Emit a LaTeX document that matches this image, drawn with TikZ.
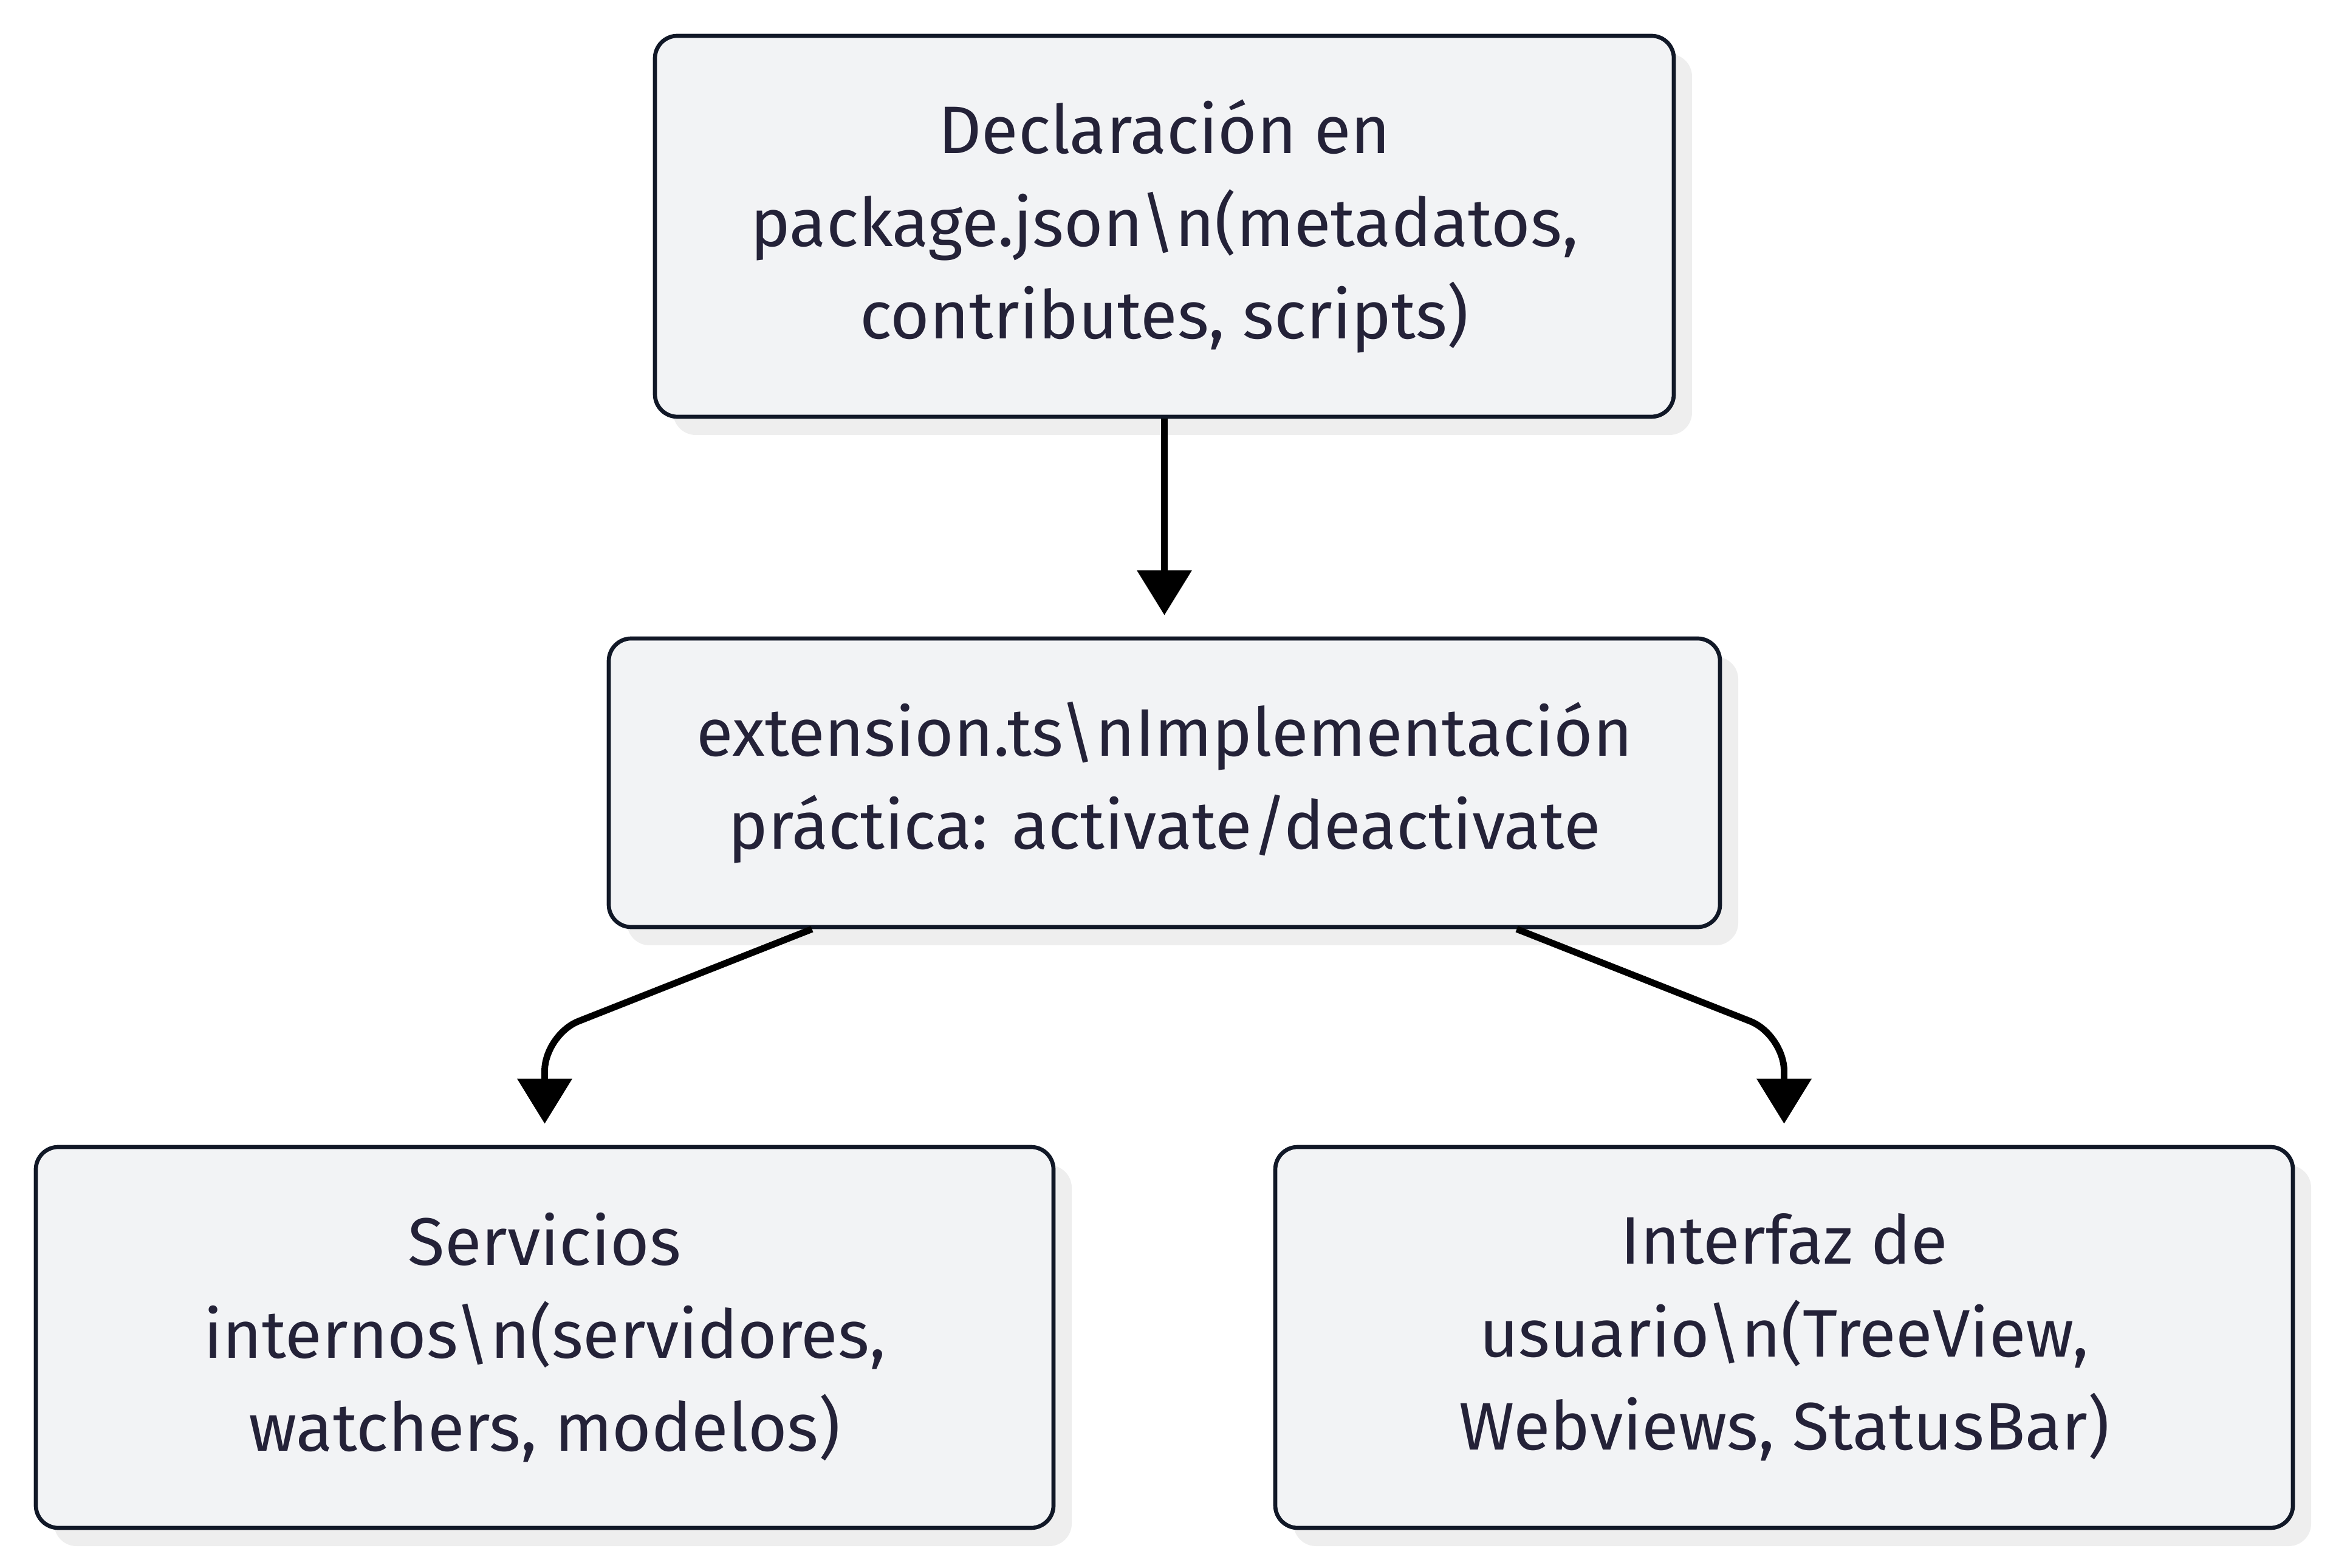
\documentclass[tikz,border=0pt]{standalone}
\usepackage{fontspec}
\setmainfont{Fira Sans}
\usetikzlibrary{arrows.meta,positioning,shadows}
\definecolor{boxFill}{RGB}{242,243,245}
\definecolor{boxLine}{RGB}{17,24,39}
\definecolor{inkDark}{RGB}{36,34,56}
\definecolor{shadeGray}{RGB}{238,238,238}

\begin{document}
\begin{tikzpicture}[
  stage/.style={rectangle,rounded corners=0.37cm,draw=boxLine,fill=boxFill,line width=1.9pt,align=center,text=inkDark,font=\fontsize{31.5}{43.5}\selectfont,general shadow={fill=shadeGray,shadow xshift=0.3cm,shadow yshift=-0.3cm}},
  flow/.style={-{Triangle[length=7.4mm,width=8.8mm]},line width=3.1pt,black,shorten >=0.35cm}
]
\useasboundingbox (0,0) rectangle (38.4,25.8);

% boxes
\node[stage,minimum width=16.77cm,minimum height=6.27cm] (decl) at (19.165,22.075) {Declaración en\\package.json\textbackslash n(metadatos,\\contributes, scripts)};
\node[stage,minimum width=18.29cm,minimum height=4.75cm] (impl) at (19.165,12.915) {extension.ts\textbackslash nImplementación\\práctica: activate/deactivate};
\node[stage,minimum width=16.75cm,minimum height=6.27cm] (serv) at (8.965,3.785) {Servicios\\internos\textbackslash n(servidores,\\watchers, modelos)};
\node[stage,minimum width=16.75cm,minimum height=6.27cm] (ui) at (29.365,3.785) {Interfaz de\\usuario\textbackslash n(TreeView,\\Webviews, StatusBar)};

% bends
\coordinate (lbend) at (8.965,8.77);
\coordinate (rbend) at (29.365,8.77);

% arrows
\draw[flow] (decl) -- (impl);
\draw[flow,rounded corners=0.6cm] ([xshift=-5.8cm]impl.south) -- (lbend) -- (serv.north);
\draw[flow,rounded corners=0.6cm] ([xshift=5.8cm]impl.south) -- (rbend) -- (ui.north);
\end{tikzpicture}
\end{document}
